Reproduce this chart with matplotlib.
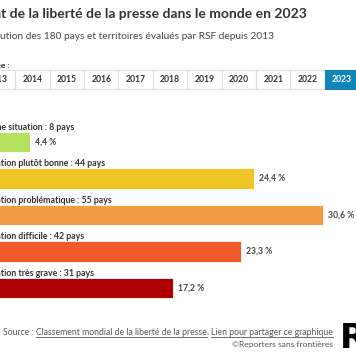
import matplotlib.pyplot as plt
from matplotlib.patches import Rectangle

plt.rcParams['font.family'] = ['Lato', 'DejaVu Sans']

# data
categories = ["Bonne situation", "Situation plutôt bonne", "Situation problématique",
              "Situation difficile", "Situation très grave"]
countries = [8, 44, 55, 42, 31]
shares = [4.4, 24.4, 30.6, 23.3, 17.2]
colors = ["#b6e35d", "#f0c526", "#f19b45", "#f05a28", "#ae0000"]
years = list(range(2013, 2024))
selected_year = 2023

W, H = 356, 364
fig = plt.figure(figsize=(W / 100, H / 100), dpi=100)

# pixel overlay for the page chrome
bg = fig.add_axes([0, 0, 1, 1])
bg.set_xlim(0, W)
bg.set_ylim(H, 0)
bg.axis('off')

left = -19.2  # page margin sits left of the visible crop
px_per_pct = 11.18

bg.text(left, 18, "État de la liberté de la presse dans le monde en 2023",
        fontsize=10.0, fontweight='bold', color='#333333', va='baseline')
bg.text(left, 39, "Évolution des 180 pays et territoires évalués par RSF depuis 2013",
        fontsize=7.3, color='#444444', va='baseline')
bg.text(left, 67.5, "Année :", fontsize=6.0, fontweight='bold', color='#333333', va='baseline')

# year selector
cell_w = 34.4
for i, yr in enumerate(years):
    x0 = left + i * cell_w
    sel = yr == selected_year
    bg.add_patch(Rectangle((x0, 70), cell_w, 19, facecolor='#1384b7' if sel else 'white',
                           edgecolor='#1384b7' if sel else '#dddddd', lw=0.8))
    bg.text(x0 + cell_w / 2, 79.8, str(yr), ha='center', va='center', fontsize=6.2,
            fontweight='bold', color='white' if sel else '#333333')

# bars
ax = fig.add_axes([left / W, 1 - 306.25 / H, (W - left) / W, 182.5 / H])
ax.set_xlim(0, (W - left) / px_per_pct)
ax.set_ylim(4.5, -0.5)
ax.axis('off')
ypos = list(range(len(categories)))
ax.barh(ypos, shares, height=0.56, color=colors, edgecolor='white', linewidth=0.6)
for y, cat, n, s in zip(ypos, categories, countries, shares):
    ax.text(0, y - 0.41, f"{cat} : {n} pays", fontsize=6.35, fontweight='bold',
            color='#333333', va='center')
    ax.text(s + 0.45, y, f"{s:.1f} %".replace('.', ','), fontsize=6.2, fontweight='bold',
            color='#444444', va='center')

# footer
fig.canvas.draw()
r = fig.canvas.get_renderer()

def width_px(t):
    return t.get_window_extent(renderer=r).width

parts = [("Source : ", False), ("Classement mondial de la liberté de la presse", True),
         (", ", False), ("Lien pour partager ce graphique", True)]
right_end = 333
texts = []
for s, u in parts:
    texts.append((bg.text(0, 335, s, fontsize=6.2, color='#555555', va='baseline'), u))
fig.canvas.draw()
total = sum(width_px(t) for t, _ in texts)
x = right_end - total
for t, u in texts:
    w = width_px(t)
    t.set_x(x)
    if u:
        bg.plot([x, x + w], [336.6, 336.6], color='#555555', lw=0.6)
    x += w
bg.text(right_end, 347, "©Reporters sans frontières", fontsize=6.1, color='#555555',
        ha='right', va='baseline')
bg.text(340, 348, "RSF", fontsize=24, fontweight='heavy', color='black',
        family='DejaVu Sans', va='baseline')

fig.savefig("out.png", dpi=100)
